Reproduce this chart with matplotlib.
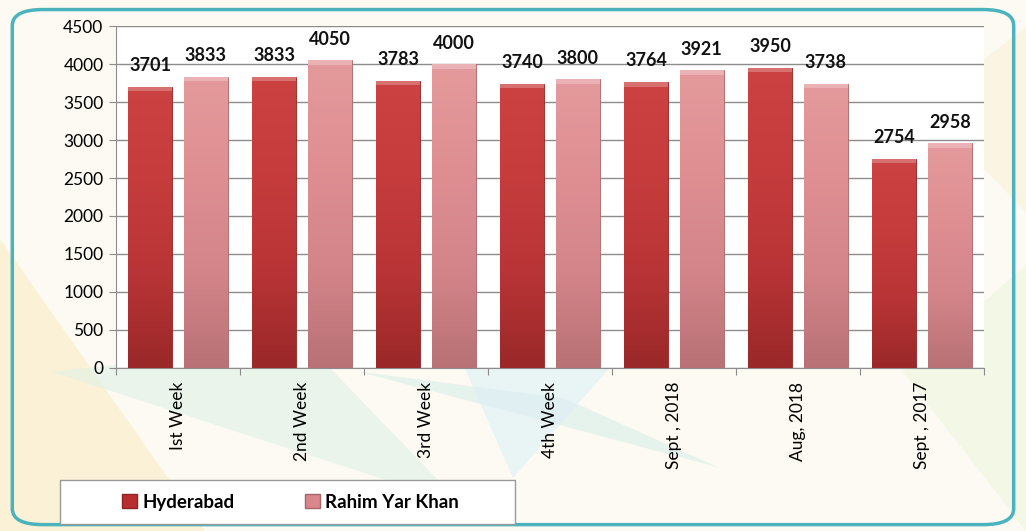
import matplotlib.pyplot as plt
import numpy as np
from matplotlib.patches import FancyBboxPatch, Polygon, Rectangle
from matplotlib.colors import LinearSegmentedColormap

plt.rcParams['font.family'] = ['Lato', 'DejaVu Sans']

categories = ["Ist Week", "2nd Week", "3rd Week", "4th Week",
              "Sept , 2018", "Aug, 2018", "Sept , 2017"]
hyderabad = [3701, 3833, 3783, 3740, 3764, 3950, 2754]
rahim_yar_khan = [3833, 4050, 4000, 3800, 3921, 3738, 2958]
series_names = ["Hyderabad", "Rahim Yar Khan"]

fig = plt.figure(figsize=(10.26, 5.31), dpi=100)
fig.patch.set_facecolor("#fcfaf2")

# pale decorative background shapes, kept behind the axes
deco = [
    ([(0.0, 0.55), (0.2, 0.0), (0.0, 0.0)], "#fbecc4"),
    ([(0.05, 0.3), (0.45, 0.05), (0.3, 0.35)], "#dff1e6"),
    ([(0.35, 0.3), (0.55, 0.25), (0.7, 0.12)], "#d8eee8"),
    ([(0.45, 0.32), (0.6, 0.32), (0.5, 0.1)], "#ddf0f7"),
    ([(0.88, 0.3), (1.0, 0.5), (1.0, 0.0)], "#eef5de"),
    ([(0.9, 0.8), (1.0, 0.95), (1.0, 0.6)], "#fcf0da"),
]
for pts, col in deco:
    fig.patches.append(Polygon(pts, closed=True, transform=fig.transFigure,
                               facecolor=col, edgecolor="none", alpha=0.6, zorder=-5))

# teal frame
fig.patches.append(FancyBboxPatch((0.012, 0.012), 0.976, 0.97,
                                  boxstyle="round,pad=0,rounding_size=0.03",
                                  transform=fig.transFigure, facecolor="none",
                                  edgecolor="#4bb3bd", linewidth=2.5, zorder=1))

ax = fig.add_axes([0.113, 0.307, 0.846, 0.644])
ax.set_facecolor("white")

x = np.arange(len(categories))
w = 0.35
gap = 0.1
b1 = ax.bar(x - (w + gap) / 2, hyderabad, w, color="#bf3739",
            edgecolor="#8e2224", linewidth=0.6, zorder=3)
b2 = ax.bar(x + (w + gap) / 2, rahim_yar_khan, w, color="#dc8a8d",
            edgecolor="#a86568", linewidth=0.6, zorder=3)

# soft vertical shading on the bars
cmap1 = LinearSegmentedColormap.from_list("h", ["#9a2828", "#b93436", "#c63c3d", "#cc4242"])
cmap2 = LinearSegmentedColormap.from_list("r", ["#b87175", "#d4858a", "#df8f92", "#e49a9c"])
grad = np.linspace(0, 1, 256).reshape(-1, 1)
for bars, cm in ((b1, cmap1), (b2, cmap2)):
    for bar in bars:
        x0, y0 = bar.get_x(), bar.get_y()
        bw, bh = bar.get_width(), bar.get_height()
        im = ax.imshow(grad, cmap=cm, origin="lower", aspect="auto",
                       extent=(x0, x0 + bw, y0, y0 + bh), zorder=3.5)
        im.set_clip_path(bar)
        ax.add_patch(Rectangle((x0, y0 + bh - 60), bw, 60,
                               facecolor="white", alpha=0.25, edgecolor="none",
                               zorder=3.6))

for bars, vals in ((b1, hyderabad), (b2, rahim_yar_khan)):
    for bar, v in zip(bars, vals):
        ax.annotate(str(v), (bar.get_x() + bar.get_width() / 2, v),
                    xytext=(0, 9), textcoords="offset points",
                    ha="center", va="bottom", fontsize=13, fontweight="bold",
                    color="#111111", zorder=5)

ax.set_xlim(-0.5, len(categories) - 0.5)
ax.set_ylim(0, 4500)
ax.set_yticks(np.arange(0, 4501, 500))
ax.yaxis.grid(True, color="#8c8c8c", linewidth=1.0, zorder=0)
ax.set_axisbelow(True)

ax.set_xticks(np.arange(-0.5, len(categories)), minor=False)
ax.set_xticklabels([])
ax.set_xticks(x, minor=True)
ax.set_xticklabels(categories, minor=True, rotation=90, fontsize=12.5)
ax.tick_params(axis="x", which="minor", length=0, pad=10)
ax.tick_params(axis="x", which="major", length=5, color="#8c8c8c")
ax.tick_params(axis="y", labelsize=12.5, length=5, color="#8c8c8c", pad=4)

for s in ("top", "right"):
    ax.spines[s].set_visible(False)
ax.spines["left"].set_color("#8c8c8c")
ax.spines["bottom"].set_color("#8c8c8c")

# legend box, then the entries centred inside it
fig.patches.append(Rectangle((0.058, 0.013), 0.444, 0.083, transform=fig.transFigure,
                             facecolor="white", edgecolor="#9a9a9a",
                             linewidth=1.0, zorder=2))
handles = [Rectangle((0, 0), 1, 1, facecolor="#b82e30", edgecolor="#8e2224"),
           Rectangle((0, 0), 1, 1, facecolor="#d9878a", edgecolor="#a86568")]
leg = fig.legend(handles, series_names, loc="center",
                 bbox_to_anchor=(0.283, 0.0545), ncol=2, frameon=False,
                 handlelength=0.8, handleheight=0.8, handletextpad=0.3,
                 columnspacing=3.75, borderaxespad=0,
                 prop={"weight": "bold", "size": 13.5})
leg.set_zorder(3)

fig.savefig("out.png", dpi=100, facecolor=fig.get_facecolor())
